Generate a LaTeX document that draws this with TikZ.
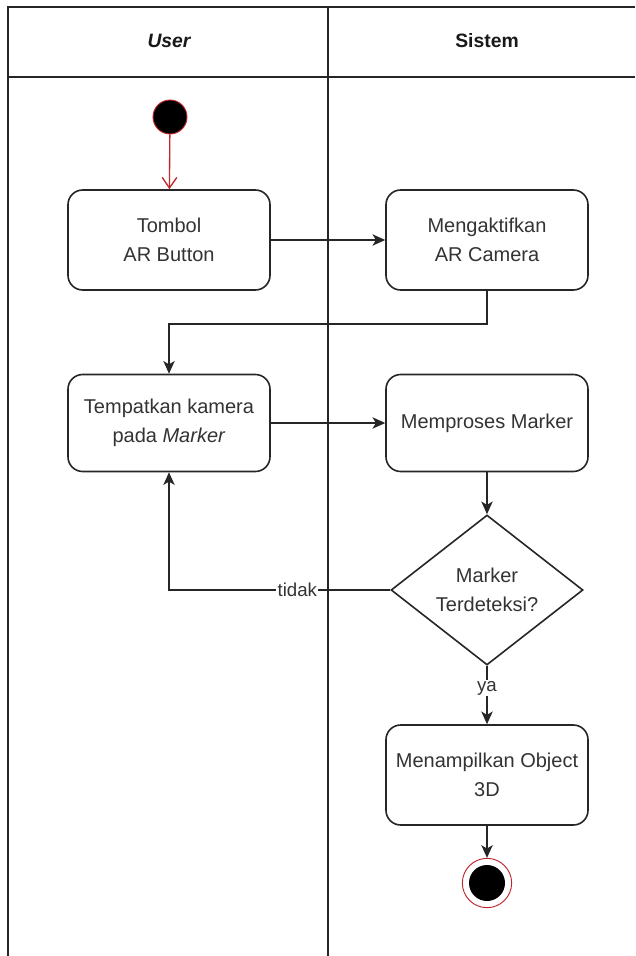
\documentclass[tikz,border=0pt]{standalone}
\usepackage{fontspec}
\setmainfont{Liberation Sans}
\usetikzlibrary{shapes.geometric,arrows.meta}
\definecolor{txt}{HTML}{333333}
\definecolor{startred}{HTML}{C0262C}
\begin{document}
\begin{tikzpicture}[x=0.75pt,y=-0.75pt,
  lane/.style={line width=1.4pt,draw=black!85},
  act/.style={draw=black!85,line width=1.2pt,rounded corners=11pt,fill=white,
    minimum width=151.5pt,minimum height=75pt,align=center,text=txt,
    font=\fontsize{15}{21.5}\selectfont,inner sep=2pt},
  decision/.style={draw=black!85,line width=1.2pt,diamond,fill=white,
    minimum width=144pt,minimum height=112.5pt,inner sep=0pt,align=center,text=txt,
    font=\fontsize{15}{21.5}\selectfont},
  flow/.style={draw=black!85,line width=1.2pt,-{Stealth[length=9.5pt,width=8.5pt,inset=2.5pt]}},
  lbl/.style={fill=white,text=txt,inner sep=1pt,font=\fontsize{14}{16}\selectfont},
  head/.style={font=\bfseries\fontsize{14.5}{17}\selectfont,text=black!90}]
\useasboundingbox (0,0) rectangle (635,956);
% swimlane frame
\draw[lane] (8,956) -- (8,7) -- (635,7);
\draw[lane] (8,77) -- (635,77);
\draw[lane] (328,7) -- (328,956);
\node[head] (hUser) at (169,41) {\itshape User};
\node[head] (hSys) at (487,41) {Sistem};
% nodes
\node[circle,fill=black,draw=startred,line width=0.7pt,minimum size=25.5pt,inner sep=0pt] (start) at (170,117) {};
\node[act] (tombol) at (169,240) {Tombol\\AR Button};
\node[act] (aktif) at (487,240) {Mengaktifkan\\AR Camera};
\node[act,minimum height=72.75pt] (tempat) at (169,423) {Tempatkan kamera\\pada \textit{Marker}};
\node[act,minimum height=72.75pt] (proses) at (487,423) {Memproses Marker};
\node[decision] (cek) at (487,590) {Marker\\Terdeteksi?};
\node[act] (tampil) at (487,775) {Menampilkan Object\\3D};
\node[circle,draw=startred,line width=0.7pt,fill=white,minimum size=37pt,inner sep=0pt] (end) at (487,883) {};
\node[circle,fill=black,minimum size=27pt,inner sep=0pt] (endIn) at (487,883) {};
% connectors
\draw[draw=startred,line width=1pt,-{Straight Barb[length=8pt,width=11pt]}] (start) -- (tombol);
\draw[flow] (tombol) -- (aktif);
\draw[flow] (aktif.south) -- (aktif.south |- 0,324) -| (tempat.north);
\draw[flow] (tempat) -- (proses);
\draw[flow] (proses) -- (cek.north);
\draw[flow] (cek.west) -| node[lbl,pos=0.21] (tidak) {tidak} (tempat.south);
\draw[flow] (cek.south) -- node[lbl,pos=0.38] (ya) {ya} (tampil.north);
\draw[flow] (tampil) -- (end);
\end{tikzpicture}
\end{document}
